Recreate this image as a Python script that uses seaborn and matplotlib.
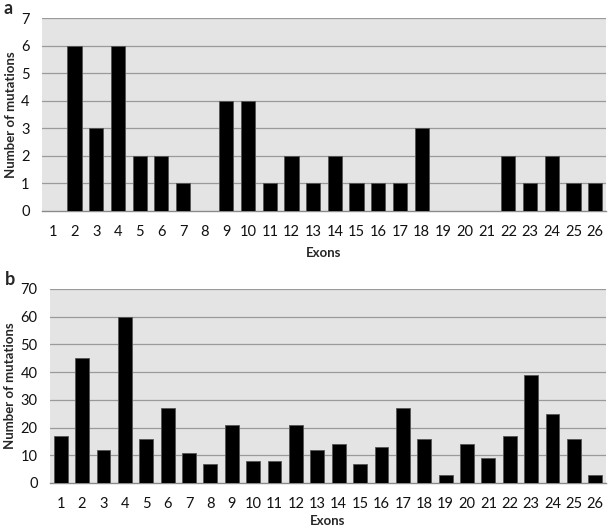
import matplotlib
matplotlib.use("Agg")
import matplotlib.pyplot as plt
import seaborn as sns
import pandas as pd

exons = [str(i) for i in range(1, 27)]
mut_a = [0, 6, 3, 6, 2, 2, 1, 0, 4, 4, 1, 2, 1, 2, 1, 1, 1, 3, 0, 0, 0, 2, 1, 2, 1, 1]
mut_b = [17, 45, 12, 60, 16, 27, 11, 7, 21, 8, 8, 21, 12, 14, 7, 13, 27, 16, 3, 14, 9, 17, 39, 25, 16, 3]
yticks_a = list(range(0, 8))
yticks_b = list(range(0, 71, 10))

sns.set_theme(style="white")
plt.rcParams['font.family'] = ['Lato', 'DejaVu Sans']

fig = plt.figure(figsize=(6.09, 5.28), dpi=100)
ax_a = fig.add_axes([42/609, 1-211/528, 564/609, 193/528])
ax_b = fig.add_axes([50/609, 1-483/528, 556/609, 194/528])

def draw(ax, vals, yt, letter, xlabelpad, letter_x):
    df = pd.DataFrame({"Exons": exons, "Number of mutations": vals})
    sns.barplot(data=df, x="Exons", y="Number of mutations", ax=ax,
                color="black", width=0.65, edgecolor="#555555", linewidth=0.6,
                saturation=1, zorder=3)
    ax.set_facecolor("#e4e4e4")
    ax.set_ylim(0, yt[-1])
    ax.set_yticks(yt)
    ax.set_xlim(-0.5, 25.5)
    for y in yt[1:]:
        ax.axhline(y, color="#9a9a9a", linewidth=0.9, zorder=1)
    for s in ["top", "right", "left"]:
        ax.spines[s].set_visible(False)
    ax.spines["bottom"].set_color("#8a8a8a")
    ax.spines["bottom"].set_linewidth(1.0)
    ax.tick_params(axis="both", length=0, labelsize=10.5, colors="#111111")
    ax.tick_params(axis="x", pad=10)
    ax.tick_params(axis="y", pad=9)
    ax.set_xlabel("Exons", fontsize=9.5, fontweight="bold", labelpad=xlabelpad)
    ax.set_ylabel("Number of mutations", fontsize=9.5, fontweight="bold", labelpad=3)
    ax.text(letter_x, 1.005, letter, transform=ax.transAxes,
            fontsize=13, fontweight="bold", va="bottom", ha="left")

draw(ax_a, mut_a, yticks_a, "a", 6, -0.068)
draw(ax_b, mut_b, yticks_b, "b", 3, -0.082)

fig.savefig("out.png", dpi=100)
